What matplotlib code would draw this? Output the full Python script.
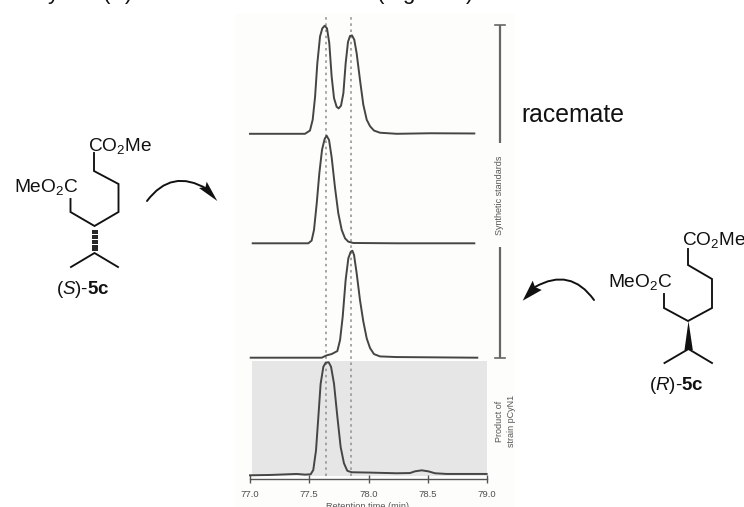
#!/usr/bin/env python3
"""Chiral GC traces of 5c with the two enantiomer structures either side."""

import matplotlib
matplotlib.use("Agg")
import matplotlib.pyplot as plt
from matplotlib.patches import FancyArrowPatch, Polygon, Rectangle

W, H = 744, 507
plt.rcParams["font.family"] = ["Liberation Sans", "DejaVu Sans"]
plt.rcParams["mathtext.fontset"] = "custom"
plt.rcParams["mathtext.rm"] = "Liberation Sans"
plt.rcParams["mathtext.it"] = "Liberation Sans:italic"
plt.rcParams["mathtext.bf"] = "Liberation Sans:bold"

# ── Traces: retention time (min), signal (% of own peak) ──────────────────────
racemate_t = [77.000, 77.253, 77.464, 77.506, 77.529, 77.549, 77.568, 77.591, 77.610, 77.630, 77.650,
              77.669, 77.689, 77.709, 77.731, 77.748, 77.768, 77.788, 77.807, 77.827, 77.844, 77.861,
              77.880, 77.900, 77.928, 77.956, 77.985, 78.013, 78.046, 78.097, 78.238, 78.519, 78.893]
racemate_y = [0, 0, 0, 3, 13, 34, 65, 90, 97.5, 100, 97.5,
              84, 53, 33, 25, 23.5, 26, 37.5, 65, 85, 90.5, 91,
              87, 74.5, 50, 27, 13, 7, 3, 1, 0, 0.5, 0.3]

s_std_t = [77.023, 77.253, 77.492, 77.520, 77.540, 77.563, 77.585, 77.608, 77.630, 77.647,
           77.667, 77.689, 77.717, 77.745, 77.774, 77.802, 77.830, 77.872, 78.238, 78.893]
s_std_y = [0, 0, 0, 2.5, 12.4, 37, 65, 87, 97, 100,
           96, 80, 52, 28, 12.4, 4.6, 1.5, 0.3, 0, 0]

r_std_t = [77.006, 77.394, 77.605, 77.647, 77.689, 77.737, 77.760, 77.782, 77.807, 77.830, 77.850,
           77.864, 77.878, 77.900, 77.928, 77.956, 77.985, 78.013, 78.046, 78.097, 78.238, 78.918]
r_std_y = [0, 0, 0, 2.2, 3.4, 6.2, 16.5, 38, 72.5, 93, 99,
           100, 96, 79, 54, 34, 18, 9, 3.4, 1.2, 0.6, 0]

product_t = [77.000, 77.169, 77.394, 77.464, 77.512, 77.534, 77.557, 77.577, 77.596, 77.619, 77.639,
             77.664, 77.684, 77.709, 77.737, 77.765, 77.793, 77.821, 77.858, 78.013, 78.238,
             78.350, 78.392, 78.449, 78.505, 78.561, 78.660, 78.997]
product_y = [0, 0.3, 1.2, 0.6, 0.9, 4.7, 22, 52, 81, 96, 99.7,
             100, 96, 81, 52, 25, 10.6, 4, 2.7, 2.4, 1.8,
             2, 3.5, 4.4, 3.5, 1.8, 1.2, 1.2]

ref_times = [77.645, 77.853]
tick_vals = [77.0, 77.5, 78.0, 78.5, 79.0]
tick_labels = ["77.0", "77.5", "78.0", "78.5", "79.0"]

# panel placement in pixels: (baseline, top)
TRACES = [
    (racemate_t, racemate_y, 133.8, 25.7),
    (s_std_t, s_std_y, 243.3, 135.7),
    (r_std_t, r_std_y, 357.7, 250.7),
    (product_t, product_y, 475.3, 362.3),
]
X0, X1 = 250, 487
LINE = "#454545"
INK = "#111111"


def px_axes(fig, x0, x1, top, bottom):
    return fig.add_axes([x0 / W, 1 - bottom / H, (x1 - x0) / W, (bottom - top) / H])


fig = plt.figure(figsize=(W / 100, H / 100), dpi=100)

# ── Overlay in pixel coordinates, for everything that is not a trace ──────────
ov = fig.add_axes([0, 0, 1, 1])
ov.set_xlim(0, W)
ov.set_ylim(H, 0)
ov.axis("off")
ov.add_patch(Rectangle((235, 14), 280, 493, color="#fdfdfb", lw=0))
ov.add_patch(Rectangle((251.7, 361), 235, 114.7, color="#e6e6e6", lw=0))

ov.text(18, -0.5, "only the ($\\mathit{S}$) enantiomer was formed (Figure 7)",
        fontsize=16, color=INK, va="baseline", ha="left")
ov.text(521, 115, "racemate", fontsize=17.8, color=INK, va="center", ha="left")

# range bars for the synthetic standards
ov.plot([500, 500], [25, 143], color="#666666", lw=1.6, solid_capstyle="butt")
ov.plot([500, 500], [247, 358], color="#666666", lw=1.6, solid_capstyle="butt")
ov.plot([495, 505], [25, 25], color="#666666", lw=1.2)
ov.plot([495, 505], [358, 358], color="#666666", lw=1.2)
ov.text(499, 195.5, "Synthetic standards", rotation=90, fontsize=6.5, color="#555555",
        ha="center", va="center")
ov.text(505.5, 421, "Product of\nstrain pCyN1", rotation=90, fontsize=6.5, color="#555555",
        ha="center", va="center", linespacing=1.5)
ov.text(368, 506.5, "Retention time (min)", fontsize=6.6, color="#555555",
        ha="center", va="center")

# (S)-5c
s_chain_x = [94, 94, 118.5, 118.5, 94.5, 70.5, 70.5]
s_chain_y = [153, 171, 184, 212, 226, 212, 199]
s_ipr_x = [71, 94.5, 118]
s_ipr_y = [267, 253, 267]
hash_y = [230.5, 233, 235.5, 238, 240.5, 243, 245.5, 248, 250]
ov.plot(s_chain_x, s_chain_y, color=INK, lw=1.35, solid_joinstyle="miter")
ov.plot(s_ipr_x, s_ipr_y, color=INK, lw=1.35, solid_joinstyle="miter")
ov.hlines(hash_y, 92, 98.3, color=INK, lw=1.3)
ov.text(88, 151, "CO$_2$Me", fontsize=13.7, color=INK, va="baseline")
ov.text(14, 192, "MeO$_2$C", fontsize=13.8, color=INK, va="baseline")
ov.text(83, 289, "($\\mathit{S}$)-$\\mathbf{5c}$", fontsize=13.5, color=INK,
        ha="center", va="center")

# (R)-5c
r_chain_x = [688, 688, 712, 712, 688, 664, 664]
r_chain_y = [249, 265, 279, 308, 321, 308, 294]
r_ipr_x = [664.5, 688.5, 712]
r_ipr_y = [363, 349, 363]
ov.plot(r_chain_x, r_chain_y, color=INK, lw=1.35, solid_joinstyle="miter")
ov.plot(r_ipr_x, r_ipr_y, color=INK, lw=1.35, solid_joinstyle="miter")
ov.add_patch(Polygon([(688.5, 321), (684.5, 350), (692.8, 350)], color=INK, lw=0))
ov.text(682, 245, "CO$_2$Me", fontsize=13.7, color=INK, va="baseline")
ov.text(608, 287, "MeO$_2$C", fontsize=13.8, color=INK, va="baseline")
ov.text(676.5, 385, "($\\mathit{R}$)-$\\mathbf{5c}$", fontsize=13.5, color=INK,
        ha="center", va="center")

# curved reaction arrows, body then swept head
ov.add_patch(FancyArrowPatch((147, 201), (207, 189), connectionstyle="arc3,rad=-0.45",
                             arrowstyle="-", color=INK, lw=1.4, shrinkA=0, shrinkB=0))
ov.add_patch(Polygon([(217.3, 201), (206.7, 181.7), (205.5, 187), (199, 188)], color=INK, lw=0))
ov.add_patch(FancyArrowPatch((594, 300), (535, 287), connectionstyle="arc3,rad=0.45",
                             arrowstyle="-", color=INK, lw=1.4, shrinkA=0, shrinkB=0))
ov.add_patch(Polygon([(522.7, 300.7), (532.7, 280.7), (535, 287), (541.7, 290)], color=INK, lw=0))

# ── Time axis and reference lines ─────────────────────────────────────────────
ax = px_axes(fig, X0, X1, 14, 479)
ax.patch.set_alpha(0)
ax.set_xlim(77.0, 79.0)
ax.set_ylim(0, 1)
ax.set_yticks([])
for side in ("top", "left", "right"):
    ax.spines[side].set_visible(False)
ax.spines["bottom"].set_color("#555555")
ax.spines["bottom"].set_linewidth(1.0)
ax.set_xticks(tick_vals, tick_labels)
ax.tick_params(axis="x", direction="inout", length=6, width=1.0, color="#555555",
               labelsize=6.8, labelcolor="#505050", pad=5)
for t in ref_times:
    ax.axvline(t, ymin=0.007, ymax=1, color="#969696", lw=1.2, ls=(0, (1.5, 2.2)))

# ── Traces, each on its own panel so height is the % scale ────────────────────
for t, y, base, top in TRACES:
    tr = px_axes(fig, X0, X1, top, base)
    tr.set_xlim(77.0, 79.0)
    tr.set_ylim(0, 100)
    tr.axis("off")
    tr.plot(t, y, color=LINE, lw=1.4, clip_on=False)

fig.savefig("out.png", dpi=100)
